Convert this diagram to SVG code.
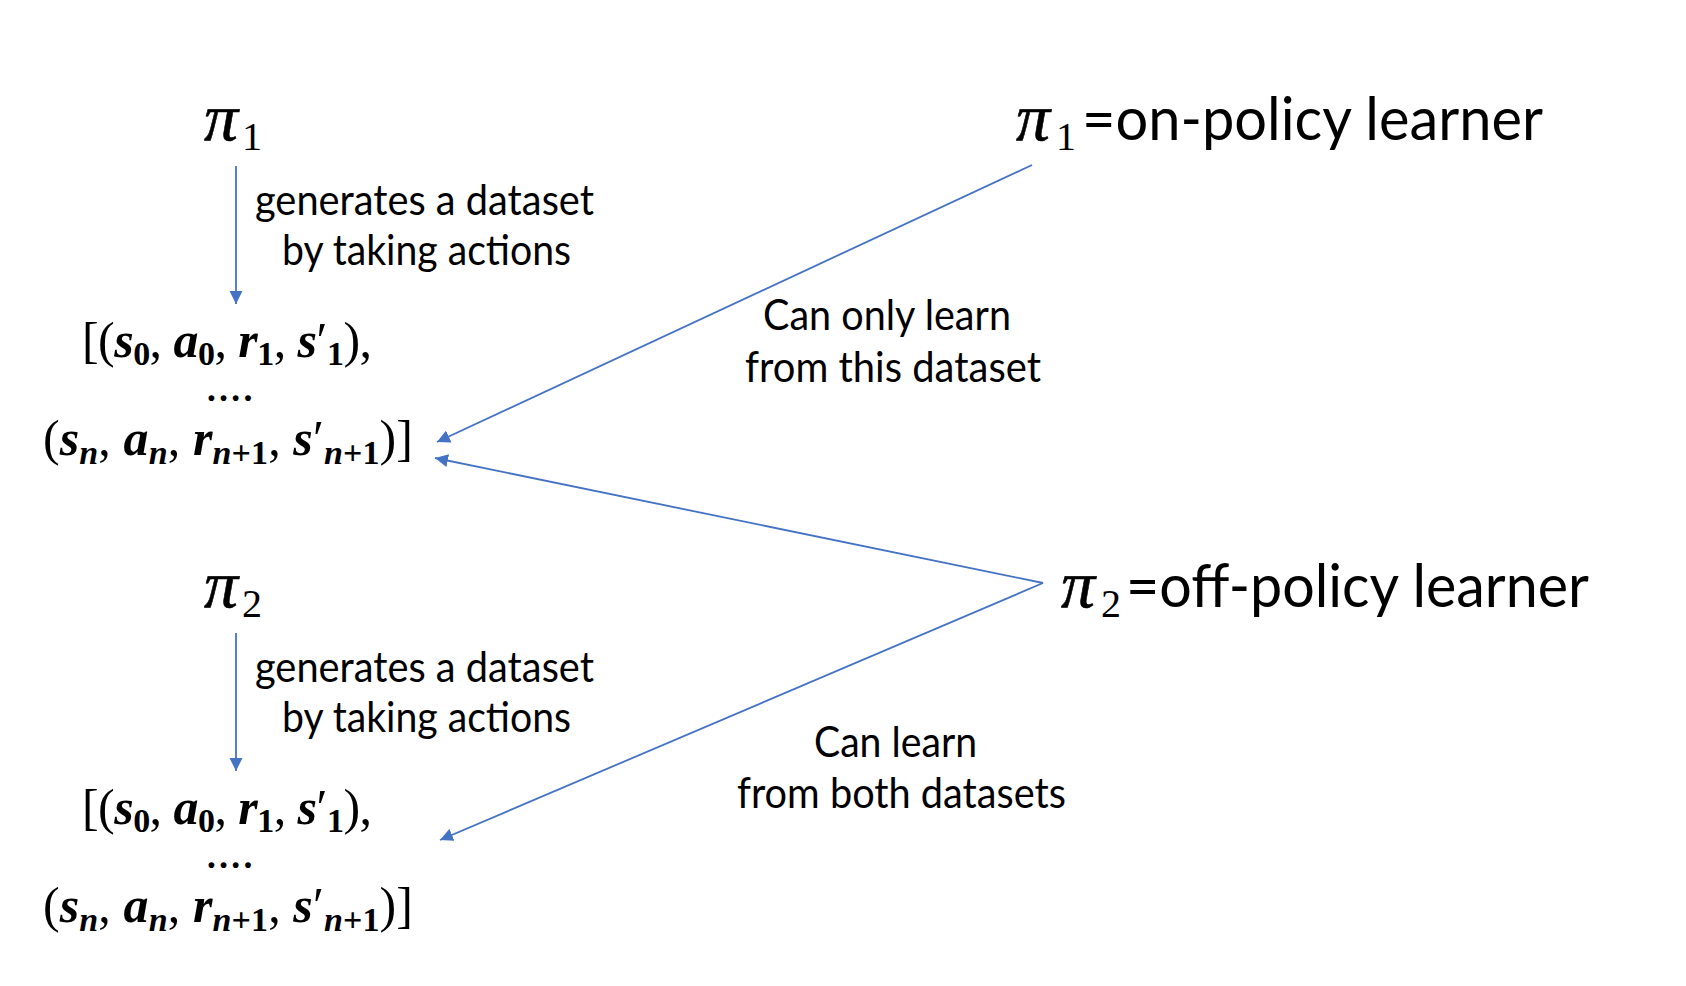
<svg xmlns="http://www.w3.org/2000/svg" width="1686" height="986" viewBox="0 0 1686 986">
<style>
.lbl { font-family: Lato, "Liberation Sans", sans-serif; font-size: 42px; fill: #000; }
.ttl { font-family: Lato, "Liberation Sans", sans-serif; font-size: 60px; fill: #000; }
.pi { font-family: "Liberation Serif", serif; font-style: italic; font-size: 68px; fill: #000; stroke: #000; stroke-width: 0.6; }
.pisub { font-family: "Liberation Serif", serif; font-size: 40px; fill: #000; }
.m { font-family: "Liberation Serif", serif; font-size: 50px; fill: #000; }
.dots { font-family: "Liberation Serif", serif; font-size: 36px; font-weight: bold; fill: #000; }
.v { font-weight: bold; font-style: italic; }
.s { font-size: 34px; font-weight: bold; }
.sn { font-size: 34px; font-weight: bold; font-style: italic; }
.edge { stroke: #4472C4; stroke-width: 1.8; fill: none; marker-end: url(#ah); }
</style>
<defs>
<marker id="ah" markerUnits="userSpaceOnUse" markerWidth="14" markerHeight="14" viewBox="0 0 14 14" refX="13" refY="7" orient="auto">
<path d="M0,0.5 L13,7 L0,13.5 z" fill="#4472C4"/>
</marker>
</defs>
<rect width="1686" height="986" fill="#fff"/>

<g id="connectors">
<line class="edge" x1="236" y1="166" x2="236" y2="304"/>
<line class="edge" x1="236" y1="633" x2="236" y2="771"/>
<line class="edge" x1="1032" y1="165" x2="437" y2="442"/>
<line class="edge" x1="1043" y1="583" x2="435" y2="458"/>
<line class="edge" x1="1043" y1="583" x2="440" y2="840"/>
</g>

<g id="pi1">
<text class="pi" x="204" y="140">π</text>
<text class="pisub" x="242" y="150">1</text>
</g>

<g id="label1">
<text class="lbl" x="255" y="215" textLength="339" lengthAdjust="spacingAndGlyphs">generates a dataset</text>
<text class="lbl" x="282" y="265" textLength="289" lengthAdjust="spacingAndGlyphs">by taking actions</text>
</g>

<g id="dataset1">
<text class="m" x="82" y="357" textLength="290" lengthAdjust="spacing">[(<tspan class="v">s</tspan><tspan class="s" dy="8">0</tspan><tspan dy="-8">, </tspan><tspan class="v">a</tspan><tspan class="s" dy="8">0</tspan><tspan dy="-8">, </tspan><tspan class="v">r</tspan><tspan class="s" dy="8">1</tspan><tspan dy="-8">, </tspan><tspan class="v">s</tspan>′<tspan class="s" dy="8">1</tspan><tspan dy="-8">),</tspan></text>
<text class="dots" x="230" y="401" text-anchor="middle" letter-spacing="2">….</text>
<text class="m" x="43" y="455" textLength="370" lengthAdjust="spacing">(<tspan class="v">s</tspan><tspan class="sn" dy="9">n</tspan><tspan dy="-9">, </tspan><tspan class="v">a</tspan><tspan class="sn" dy="9">n</tspan><tspan dy="-9">, </tspan><tspan class="v">r</tspan><tspan class="sn" dy="9">n</tspan><tspan class="s">+1</tspan><tspan dy="-9">, </tspan><tspan class="v">s</tspan>′<tspan class="sn" dy="9">n</tspan><tspan class="s">+1</tspan><tspan dy="-9">)]</tspan></text>
</g>

<g id="pi2">
<text class="pi" x="204" y="607">π</text>
<text class="pisub" x="242" y="617">2</text>
</g>

<g id="label2">
<text class="lbl" x="255" y="682" textLength="339" lengthAdjust="spacingAndGlyphs">generates a dataset</text>
<text class="lbl" x="282" y="732" textLength="289" lengthAdjust="spacingAndGlyphs">by taking actions</text>
</g>

<g id="dataset2">
<text class="m" x="82" y="824" textLength="290" lengthAdjust="spacing">[(<tspan class="v">s</tspan><tspan class="s" dy="8">0</tspan><tspan dy="-8">, </tspan><tspan class="v">a</tspan><tspan class="s" dy="8">0</tspan><tspan dy="-8">, </tspan><tspan class="v">r</tspan><tspan class="s" dy="8">1</tspan><tspan dy="-8">, </tspan><tspan class="v">s</tspan>′<tspan class="s" dy="8">1</tspan><tspan dy="-8">),</tspan></text>
<text class="dots" x="230" y="868" text-anchor="middle" letter-spacing="2">….</text>
<text class="m" x="43" y="922" textLength="370" lengthAdjust="spacing">(<tspan class="v">s</tspan><tspan class="sn" dy="9">n</tspan><tspan dy="-9">, </tspan><tspan class="v">a</tspan><tspan class="sn" dy="9">n</tspan><tspan dy="-9">, </tspan><tspan class="v">r</tspan><tspan class="sn" dy="9">n</tspan><tspan class="s">+1</tspan><tspan dy="-9">, </tspan><tspan class="v">s</tspan>′<tspan class="sn" dy="9">n</tspan><tspan class="s">+1</tspan><tspan dy="-9">)]</tspan></text>
</g>

<g id="title1">
<text class="pi" x="1016" y="140">π</text>
<text class="pisub" x="1056" y="150">1</text>
<text class="ttl" x="1082" y="140" textLength="461" lengthAdjust="spacingAndGlyphs">=on-policy learner</text>
</g>

<g id="title2">
<text class="pi" x="1061" y="607">π</text>
<text class="pisub" x="1101" y="617">2</text>
<text class="ttl" x="1126" y="607" textLength="463" lengthAdjust="spacingAndGlyphs">=off-policy learner</text>
</g>

<g id="edgeLabel1">
<text class="lbl" x="763" y="330" textLength="248" lengthAdjust="spacingAndGlyphs">Can only learn</text>
<text class="lbl" x="745" y="382" textLength="296" lengthAdjust="spacingAndGlyphs">from this dataset</text>
</g>

<g id="edgeLabel2">
<text class="lbl" x="814" y="757" textLength="163" lengthAdjust="spacingAndGlyphs">Can learn</text>
<text class="lbl" x="737" y="808" textLength="329" lengthAdjust="spacingAndGlyphs">from both datasets</text>
</g>
</svg>
